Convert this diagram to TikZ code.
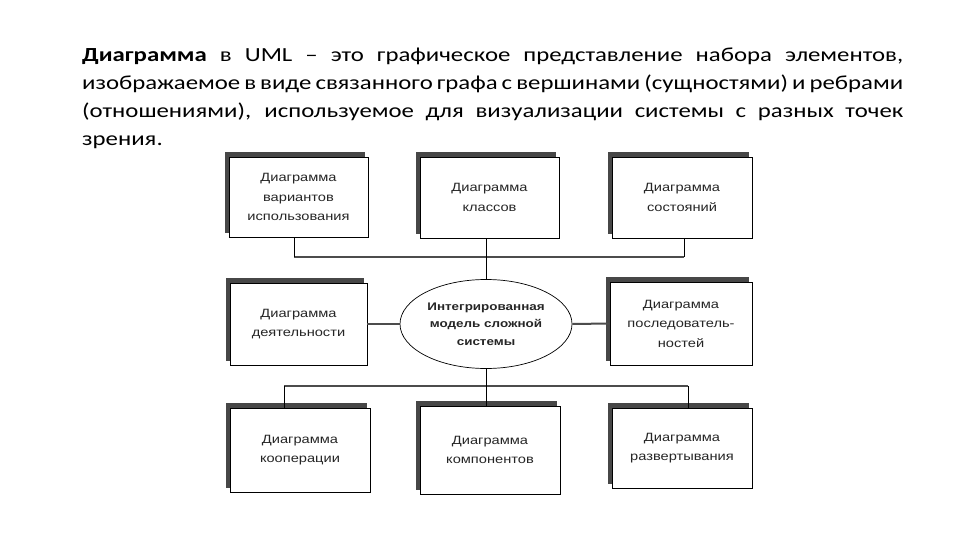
\documentclass[tikz,border=0pt]{standalone}
\usepackage{fontspec}
\usetikzlibrary{shapes.geometric,shadows}
\newfontfamily\titlefont[FakeStretch=1.24]{Carlito}
\newfontfamily\boxfont[FakeStretch=1.22]{Liberation Sans}
\begin{document}
\begin{tikzpicture}[x=1pt,y=-1pt,
  tline/.style={anchor=base west, inner sep=0pt, font=\titlefont\fontsize{20}{24}\selectfont},
  diag/.style={draw=black, line width=0.7pt, fill=white, inner sep=0pt, align=center,
    minimum width=140pt, minimum height=81pt,
    font=\boxfont\fontsize{12}{19.5}\selectfont, text=black!85,
    copy shadow={shadow xshift=-3.5pt, shadow yshift=5pt, fill=black!72, draw=black!72}},
  ell/.style={ellipse, draw=black, line width=0.7pt, fill=white, inner sep=0pt, align=center,
    minimum width=172pt, minimum height=89pt,
    font=\boxfont\bfseries\fontsize{11}{17.5}\selectfont, text=black!85},
  bus/.style={draw=black!70, line width=2pt},
  stem/.style={draw=black, line width=0.8pt}]
\useasboundingbox (0,0) rectangle (960,540);
\fill[white] (0,0) rectangle (960,540);

% title text
\node[tline] (l1) at (82,61.5) {\makebox[821pt][s]{\textbf{Диаграмма} в UML – это графическое представление набора элементов,}};
\node[tline] (l2) at (82,89.5) {\makebox[821pt][s]{изображаемое в виде связанного графа с вершинами (сущностями) и ребрами}};
\node[tline] (l3) at (82,117.5) {\makebox[821pt][s]{(отношениями), используемое для визуализации системы с разных точек}};
\node[tline] (l4) at (82,145.5) {зрения.};

% boxes
\node[diag, minimum width=139pt, minimum height=80pt] (b1) at (298.5,197) {Диаграмма\\вариантов\\использования};
\node[diag, minimum width=139pt] (b2) at (489.5,197.5) {Диаграмма\\классов};
\node[diag] (b3) at (682,197.5) {Диаграмма\\состояний};
\node[diag, minimum width=137pt, minimum height=82pt] (b4) at (298.5,324) {Диаграмма\\деятельности};
\node[ell] (e) at (486,324) {Интегрированная\\модель сложной\\системы};
\node[diag, minimum width=142pt, minimum height=83pt] (b6) at (681,323.5) {Диаграмма\\последователь-\\ностей};
\node[diag, minimum height=84pt] (b7) at (300,450) {Диаграмма\\кооперации};
\node[diag, minimum height=88pt] (b8) at (490,450) {Диаграмма\\компонентов};
\node[diag, minimum height=80pt] (b9) at (682,448) {Диаграмма\\развертывания};

% bus coordinates
\coordinate (t1) at (294,257);
\coordinate (t3) at (684,257);
\coordinate (u1) at (284,386);
\coordinate (u3) at (688,386);

% top bus
\draw[bus] (t1) -- (t3);
\draw[stem] (t1 |- b1.south) -- (t1);
\draw[stem] (t3 |- b3.south) -- (t3);
\draw[stem] (e.north |- b2.south) -- (e.north);

% middle
\draw[bus] (b4.east) -- (e.west);
\draw[bus] (e.east) -- (b6.west);

% bottom bus
\draw[bus] (u1) -- (u3);
\draw[stem] (e.south) -- (e.south |- b8.north);
\draw[stem] (u1) -- (u1 |- b7.north);
\draw[stem] (u3) -- (u3 |- b9.north);
\end{tikzpicture}
\end{document}
